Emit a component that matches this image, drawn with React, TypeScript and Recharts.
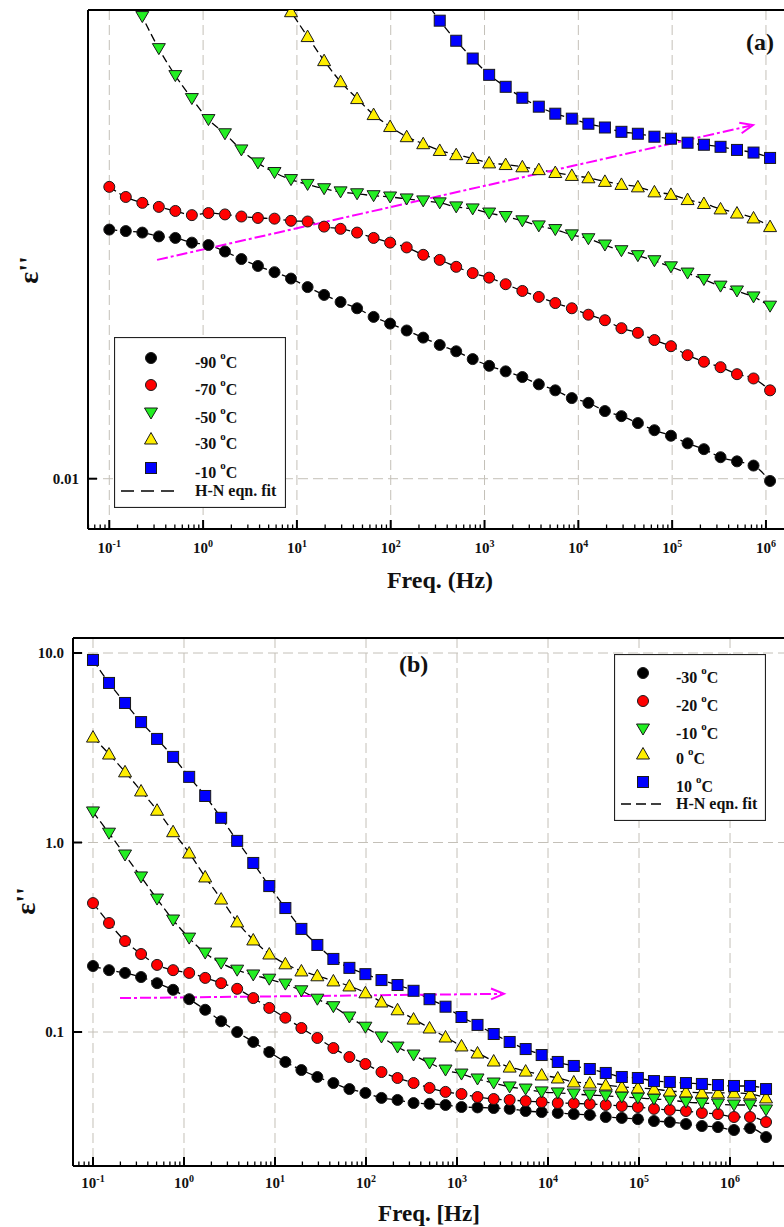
import React from 'react';
import {
  ComposedChart,
  Line,
  XAxis,
  YAxis,
  CartesianGrid,
  ReferenceLine,
  Legend,
} from 'recharts';

const FONT = '"Liberation Serif", "Times New Roman", serif';

const freq = [
  0.1, 0.15, 0.225, 0.3375, 0.506, 0.759, 1.14, 1.71, 2.56, 3.84, 5.77, 8.65,
  13.0, 19.5, 29.2, 43.8, 65.7, 98.5, 148, 222, 333, 499, 748, 1120, 1680,
  2530, 3790, 5680, 8520, 12800, 19200, 28800, 43100, 64700, 97100, 146000,
  218000, 328000, 491000, 737000, 1106000, 1659000, 2488000,
];

// panel (a) – eps'' below Tg
const a90 = [
  0.0302, 0.03, 0.0298, 0.0293, 0.0291, 0.0285, 0.0282, 0.0274, 0.0265, 0.0257,
  0.025, 0.0243, 0.0234, 0.0226, 0.0219, 0.0213, 0.0205, 0.0199, 0.0193, 0.0187,
  0.0181, 0.0176, 0.017, 0.0165, 0.0161, 0.0157, 0.0152, 0.0148, 0.0143, 0.014,
  0.0135, 0.0132, 0.0128, 0.0124, 0.0121, 0.0117, 0.0114, 0.011, 0.0108, 0.0106,
  0.0099,
];
const a70 = [
  0.0365, 0.0349, 0.034, 0.0334, 0.0328, 0.0322, 0.0325, 0.0323, 0.032, 0.0318,
  0.0317, 0.0314, 0.0313, 0.0306, 0.0303, 0.0298, 0.0291, 0.0285, 0.0279, 0.027,
  0.0264, 0.0256, 0.0249, 0.0244, 0.0237, 0.023, 0.0224, 0.0218, 0.0213, 0.0207,
  0.0202, 0.0195, 0.0191, 0.0185, 0.018, 0.0173, 0.0168, 0.0164, 0.0159, 0.0156,
  0.0148,
];
const a50 = [
  null, 0.0915, 0.0777, 0.0674, 0.0598, 0.054, 0.0492, 0.0462, 0.043, 0.0406,
  0.0389, 0.0377, 0.0369, 0.0362, 0.0357, 0.0354, 0.0351, 0.0349, 0.0346, 0.0343,
  0.034, 0.0334, 0.0331, 0.0325, 0.032, 0.0314, 0.0307, 0.0302, 0.0295, 0.029,
  0.0282, 0.0275, 0.0269, 0.0263, 0.0256, 0.0249, 0.0242, 0.0235, 0.023, 0.0224,
  0.0215,
];
const a30 = [
  null, null, null, null, null, null, null, null, null, null,
  0.0895, 0.0794, 0.0711, 0.0639, 0.0582, 0.054, 0.0503, 0.0477, 0.0456, 0.0442,
  0.0429, 0.0421, 0.0414, 0.0406, 0.0403, 0.0399, 0.0394, 0.0389, 0.0384, 0.038,
  0.0374, 0.0369, 0.0365, 0.0357, 0.0353, 0.0345, 0.0339, 0.0331, 0.0325, 0.0318,
  0.0306,
];
const a10 = [
  null, null, null, null, null, null, null, null, null, null,
  null, null, null, null, null, null, null, null, null, 0.0845,
  0.0763, 0.0698, 0.0645, 0.06, 0.0569, 0.0542, 0.0521, 0.0505, 0.0494, 0.0483,
  0.0475, 0.0466, 0.0462, 0.0456, 0.0452, 0.0444, 0.044, 0.0436, 0.043, 0.0425,
  0.0415,
];

// panel (b) – eps'' above Tg
const b30 = [
  0.223, 0.212, 0.205, 0.195, 0.181, 0.167, 0.149, 0.131, 0.114, 0.1, 0.0886,
  0.0784, 0.0695, 0.063, 0.0579, 0.0538, 0.05, 0.0477, 0.0449, 0.0438, 0.0422,
  0.0418, 0.0412, 0.0402, 0.04, 0.0397, 0.0393, 0.0383, 0.0378, 0.0374, 0.0369,
  0.0365, 0.0356, 0.0352, 0.0347, 0.0339, 0.0335, 0.0327, 0.0319, 0.0315, 0.0304,
  0.0311, 0.0279,
];
const b20 = [
  0.479, 0.376, 0.302, 0.258, 0.226, 0.212, 0.205, 0.193, 0.181, 0.169, 0.151,
  0.134, 0.119, 0.105, 0.093, 0.0823, 0.0738, 0.0678, 0.0615, 0.0572, 0.0538,
  0.0507, 0.0483, 0.0471, 0.0454, 0.0443, 0.0438, 0.0432, 0.0427, 0.0422, 0.042,
  0.0417, 0.0412, 0.0407, 0.0402, 0.0393, 0.0388, 0.0383, 0.0374, 0.0369, 0.0356,
  0.0356, 0.0335,
];
const b10 = [
  1.45, 1.12, 0.859, 0.658, 0.503, 0.39, 0.313, 0.261, 0.231, 0.212, 0.2, 0.19,
  0.179, 0.165, 0.149, 0.136, 0.12, 0.106, 0.0941, 0.0833, 0.0756, 0.0686, 0.063,
  0.06, 0.0565, 0.0538, 0.0513, 0.05, 0.0483, 0.0477, 0.0471, 0.0465, 0.046,
  0.0454, 0.0449, 0.0443, 0.0438, 0.0427, 0.0422, 0.0417, 0.0412, 0.0412, 0.0388,
];
const b0 = [
  3.6, 2.93, 2.36, 1.87, 1.48, 1.14, 0.88, 0.658, 0.503, 0.381, 0.306, 0.258,
  0.229, 0.21, 0.198, 0.186, 0.175, 0.161, 0.144, 0.131, 0.117, 0.105, 0.0941,
  0.0844, 0.0775, 0.0703, 0.0653, 0.0622, 0.0593, 0.0572, 0.0545, 0.0538, 0.0525,
  0.0513, 0.0507, 0.05, 0.0488, 0.0483, 0.0477, 0.0477, 0.0477, 0.0471, 0.0449,
];
const bp10 = [
  9.19, 6.95, 5.45, 4.32, 3.52, 2.83, 2.22, 1.76, 1.35, 1.02, 0.78, 0.589, 0.451,
  0.35, 0.288, 0.243, 0.218, 0.202, 0.188, 0.177, 0.165, 0.149, 0.136, 0.12,
  0.109, 0.0976, 0.0886, 0.0813, 0.0756, 0.0695, 0.0662, 0.0638, 0.0608, 0.0579,
  0.0572, 0.0551, 0.0545, 0.0538, 0.0532, 0.0525, 0.0519, 0.0519, 0.05,
];

const namesA = ['-90', '-70', '-50', '-30', '-10'];
const namesB = ['-30', '-20', '-10', '0', '10'];

// magenta guide arrows: [freq, eps''] start -> end
const arrowA = [
  [0.323, 0.0264],
  [728000, 0.048],
];
const arrowB = [
  [0.198, 0.151],
  [3280, 0.159],
];

const yTicksA = [0.01];
const yLabelsA = ['0.01'];
const yTicksB = [0.1, 1, 10];
const yLabelsB = ['0.1', '1.0', '10.0'];
const decades = [0.1, 1, 10, 100, 1000, 10000, 100000, 1000000];

const kinds = ['circle', 'circle', 'down', 'up', 'square'];
const fills = ['#000000', '#ff0000', '#22ee22', '#ffee00', '#0000ff'];

const logTicks = (lo: number, hi: number) => {
  const out: number[] = [];
  for (let k = -2; k <= 7; k++) {
    for (let m = 1; m <= 9; m++) {
      const v = m * Math.pow(10, k);
      if (v >= lo && v <= hi) out.push(v);
    }
  }
  return out;
};

const toPts = (vals: (number | null)[]) =>
  vals
    .map((v, i) => (v == null ? null : { f: freq[i], v }))
    .filter((p) => p != null);

const Marker = ({ cx, cy, kind, fill }: any) => {
  if (cx == null || cy == null) return null;
  const st = { fill, stroke: '#1a1a1a', strokeWidth: 1 };
  if (kind === 'circle') return <circle cx={cx} cy={cy} r={5.5} {...st} />;
  if (kind === 'down')
    return (
      <polygon
        points={`${cx - 6.5},${cy - 5} ${cx + 6.5},${cy - 5} ${cx},${cy + 6}`}
        {...st}
      />
    );
  if (kind === 'up')
    return (
      <polygon
        points={`${cx},${cy - 6.5} ${cx - 6.5},${cy + 5} ${cx + 6.5},${cy + 5}`}
        {...st}
      />
    );
  return <rect x={cx - 5.5} y={cy - 5.5} width={11} height={11} {...st} />;
};

const XTick = ({ x, y, payload, dy }: any) => {
  const e = Math.log10(payload.value);
  const major = Math.abs(e - Math.round(e)) < 1e-6;
  return (
    <g>
      <line
        x1={x}
        x2={x}
        y1={y}
        y2={y - (major ? 9 : 4.5)}
        stroke="#000"
        strokeWidth={major ? 2 : 1.3}
      />
      {major && (
        <text
          x={x}
          y={y + dy}
          textAnchor="middle"
          fontFamily={FONT}
          fontWeight="bold"
          fontSize={15}
          fill="#111"
        >
          10
          <tspan dy={-6} fontSize={10}>
            {Math.round(e)}
          </tspan>
        </text>
      )}
    </g>
  );
};

const YTick = ({ x, y, payload, ticks, labels }: any) => {
  const i = ticks.findIndex((t: number) => Math.abs(t - payload.value) < t * 1e-6);
  return (
    <g>
      <line x1={x} x2={x + 9} y1={y} y2={y} stroke="#000" strokeWidth={2} />
      <text
        x={x - 9}
        y={y + 5}
        textAnchor="end"
        fontFamily={FONT}
        fontWeight="bold"
        fontSize={15}
        fill="#111"
      >
        {labels[i]}
      </text>
    </g>
  );
};

const Arrow = ({ x1, y1, x2, y2 }: any) => {
  const a = Math.atan2(y2 - y1, x2 - x1);
  const L = 14;
  const hx1 = x2 - L * Math.cos(a - 0.4);
  const hy1 = y2 - L * Math.sin(a - 0.4);
  const hx2 = x2 - L * Math.cos(a + 0.4);
  const hy2 = y2 - L * Math.sin(a + 0.4);
  return (
    <g>
      <line
        x1={x1}
        y1={y1}
        x2={x2 - 3 * Math.cos(a)}
        y2={y2 - 3 * Math.sin(a)}
        stroke="#ff00ff"
        strokeWidth={2}
        strokeDasharray="11 3 3 3"
      />
      <path
        d={`M${hx1},${hy1} L${x2},${y2} L${hx2},${hy2}`}
        fill="none"
        stroke="#ff00ff"
        strokeWidth={2}
      />
    </g>
  );
};

const LegendBox = ({ w, h, names, mx, tx, rows, fitY, fitX, dash }: any) => (
  <svg width={w} height={h} style={{ display: 'block' }}>
    <rect x={0.5} y={0.5} width={w - 1} height={h - 1} fill="#fff" stroke="#222" strokeWidth={1.2} />
    {names.map((n: string, i: number) => (
      <g key={n}>
        <Marker cx={mx} cy={rows[i]} kind={kinds[i]} fill={fills[i]} />
        <text x={tx} y={rows[i] + 9.5} fontFamily={FONT} fontWeight="bold" fontSize={16} fill="#111">
          {n}{' '}
          <tspan dy={-9} fontSize={11}>
            o
          </tspan>
          <tspan dy={9}>C</tspan>
        </text>
      </g>
    ))}
    <line x1={fitX[0]} x2={fitX[1]} y1={fitY} y2={fitY} stroke="#000" strokeWidth={1.5} strokeDasharray={dash} />
    <text x={tx} y={fitY + 5} fontFamily={FONT} fontWeight="bold" fontSize={16} fill="#111">
      H-N eqn. fit
    </text>
  </svg>
);

const Panel = ({ cfg }: any) => {
  const xTicks = logTicks(cfg.xDomain[0], cfg.xDomain[1]);
  return (
    <div style={{ position: 'absolute', left: 0, top: cfg.top }}>
      <ComposedChart
        width={800}
        height={cfg.height}
        margin={{ top: cfg.plotTop, right: 0, bottom: 0, left: 0 }}
      >
        <CartesianGrid
          verticalValues={decades}
          horizontalValues={cfg.yTicks}
          stroke="#c4c0b8"
          strokeDasharray="10 5"
        />
        <XAxis
          dataKey="f"
          type="number"
          scale="log"
          domain={cfg.xDomain}
          allowDataOverflow
          ticks={xTicks}
          interval={0}
          tickSize={0}
          tickMargin={0}
          height={cfg.xAxisH}
          axisLine={{ stroke: '#000', strokeWidth: 2 }}
          tickLine={false}
          tick={(p: any) => <XTick {...p} dy={cfg.tickDy} />}
          label={() => (
            <text
              x={cfg.xTitle[1]}
              y={cfg.xTitle[2]}
              textAnchor="middle"
              fontFamily={FONT}
              fontWeight="bold"
              fontSize={cfg.xTitle[3]}
              fill="#111"
            >
              {cfg.xTitle[0]}
            </text>
          )}
        />
        <YAxis
          dataKey="v"
          type="number"
          scale="log"
          domain={cfg.yDomain}
          allowDataOverflow
          ticks={cfg.yTicks}
          interval={0}
          tickSize={0}
          tickMargin={0}
          width={cfg.yAxisW}
          axisLine={{ stroke: '#000', strokeWidth: 2 }}
          tickLine={false}
          tick={(p: any) => <YTick {...p} ticks={cfg.yTicks} labels={cfg.yLabels} />}
          label={() => (
            <text
              x={cfg.yTitle[0]}
              y={cfg.yTitle[1]}
              transform={`rotate(-90 ${cfg.yTitle[0]} ${cfg.yTitle[1]})`}
              textAnchor="middle"
              dominantBaseline="central"
              fontFamily={FONT}
              fontWeight="bold"
              fontSize={28}
              fill="#111"
            >
              ε''
            </text>
          )}
        />
        <ReferenceLine y={cfg.yDomain[1]} stroke="#000" strokeWidth={2} />
        {cfg.series.map((s: any, i: number) => (
          <Line
            key={`m${i}`}
            data={toPts(s)}
            dataKey="v"
            stroke="none"
            legendType="none"
            isAnimationActive={false}
            activeDot={false}
            dot={(p: any) => (
              <Marker key={`d${i}-${p.index}`} cx={p.cx} cy={p.cy} kind={kinds[i]} fill={fills[i]} />
            )}
          />
        ))}
        {cfg.series.map((s: any, i: number) => (
          <Line
            key={`f${i}`}
            data={toPts(s)}
            dataKey="v"
            type="monotone"
            stroke="#000"
            strokeWidth={1.3}
            strokeDasharray="8 4"
            dot={false}
            activeDot={false}
            legendType="none"
            isAnimationActive={false}
          />
        ))}
        <ReferenceLine
          segment={[
            { x: cfg.arrow[0][0], y: cfg.arrow[0][1] },
            { x: cfg.arrow[1][0], y: cfg.arrow[1][1] },
          ]}
          shape={(p: any) => <Arrow {...p} />}
        />
        <Legend
          layout="vertical"
          align="center"
          verticalAlign="middle"
          wrapperStyle={{
            left: cfg.legend.x,
            top: cfg.legend.y,
            width: cfg.legend.w,
            height: cfg.legend.h,
          }}
          content={() => <LegendBox {...cfg.legend} names={cfg.names} />}
        />
      </ComposedChart>
      <div
        style={{
          position: 'absolute',
          left: cfg.letter[1],
          top: cfg.letter[2],
          fontFamily: FONT,
          fontWeight: 'bold',
          fontSize: 24,
          lineHeight: '24px',
          color: '#111',
        }}
      >
        {cfg.letter[0]}
      </div>
    </div>
  );
};

const cfgA = {
  top: 0,
  height: 600,
  plotTop: 10,
  yAxisW: 88,
  xAxisH: 71,
  xDomain: [0.0593, 2306000],
  yDomain: [0.008, 0.08],
  yTicks: yTicksA,
  yLabels: yLabelsA,
  tickDy: 24,
  xTitle: ['Freq. (Hz)', 440, 588, 24],
  yTitle: [28, 270],
  series: [a90, a70, a50, a30, a10],
  names: namesA,
  arrow: arrowA,
  letter: ['(a)', 746, 30],
  legend: {
    x: 114, y: 337, w: 172, h: 171, mx: 37, tx: 81,
    rows: [21, 48, 76, 102, 131], fitY: 154, fitX: [7, 60], dash: '13 7',
  },
};

const cfgB = {
  top: 610,
  height: 617,
  plotTop: 28,
  yAxisW: 73,
  xAxisH: 61,
  xDomain: [0.0603, 5875000],
  yDomain: [0.01963, 12.0],
  yTicks: yTicksB,
  yLabels: yLabelsB,
  tickDy: 22,
  xTitle: ['Freq. [Hz]', 429, 611, 23],
  yTitle: [25, 291],
  series: [b30, b20, b10, b0, bp10],
  names: namesB,
  arrow: arrowB,
  letter: ['(b)', 399, 42],
  legend: {
    x: 614, y: 44, w: 152, h: 167, mx: 29, tx: 62,
    rows: [19, 47, 75, 100, 128], fitY: 150, fitX: [7, 47], dash: '10 5',
  },
};

export default function App() {
  return (
    <div
      style={{
        position: 'absolute',
        left: 0,
        top: 0,
        width: 784,
        height: 1227,
        overflow: 'hidden',
        background: '#fff',
      }}
    >
      <Panel cfg={cfgA} />
      <Panel cfg={cfgB} />
    </div>
  );
}
